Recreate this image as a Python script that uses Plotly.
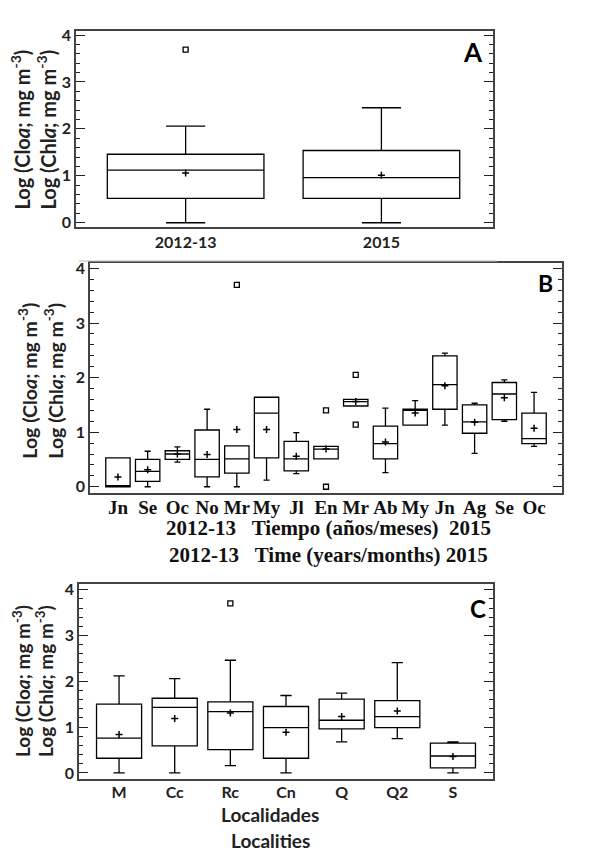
import plotly.graph_objects as go

# Panel A: by period
periods = ['2012-13', '2015']
a_q1 = [0.52, 0.52]
a_median = [1.12, 0.96]
a_q3 = [1.46, 1.54]
a_low = [0.0, 0.0]
a_up = [2.06, 2.45]
a_mean = [1.06, 1.01]
a_out_idx = [0]
a_out_val = [3.69]

# Panel B: by month
months = ['Jn', 'Se', 'Oc', 'No', 'Mr', 'My', 'Jl',
          'En', 'Mr', 'Ab', 'My', 'Jn', 'Ag', 'Se', 'Oc']
b_q1 = [0.0, 0.10, 0.50, 0.18, 0.25, 0.53, 0.29, 0.51, 1.48, 0.51, 1.13, 1.42, 0.98, 1.23, 0.79]
b_median = [0.0, 0.28, 0.60, 0.50, 0.51, 1.35, 0.51, 0.69, 1.56, 0.79, 1.40, 1.87, 1.19, 1.70, 0.88]
b_q3 = [0.53, 0.50, 0.66, 1.04, 0.75, 1.64, 0.83, 0.74, 1.60, 1.11, 1.42, 2.40, 1.50, 1.91, 1.35]
b_low = [0.0, 0.0, 0.45, 0.0, 0.0, 0.12, 0.24, 0.51, 1.48, 0.26, 1.13, 1.13, 0.61, 1.20, 0.74]
b_up = [0.53, 0.65, 0.73, 1.42, 0.75, 1.64, 0.99, 0.74, 1.60, 1.44, 1.58, 2.45, 1.53, 1.96, 1.73]
b_mean = [0.18, 0.31, 0.60, 0.59, 1.05, 1.05, 0.56, 0.69, 1.56, 0.82, 1.35, 1.85, 1.18, 1.63, 1.07]
b_out_idx = [4, 7, 7, 8, 8]
b_out_val = [3.70, 1.40, 0.0, 2.05, 1.14]

# Panel C: by locality
places = ['M', 'Cc', 'Rc', 'Cn', 'Q', 'Q2', 'S']
c_q1 = [0.32, 0.59, 0.51, 0.32, 0.96, 0.99, 0.11]
c_median = [0.76, 1.43, 1.34, 0.99, 1.15, 1.23, 0.37]
c_q3 = [1.50, 1.63, 1.55, 1.45, 1.61, 1.58, 0.65]
c_low = [0.0, 0.0, 0.16, 0.0, 0.68, 0.75, 0.0]
c_up = [2.12, 2.06, 2.46, 1.69, 1.74, 2.41, 0.68]
c_mean = [0.84, 1.19, 1.31, 0.89, 1.23, 1.35, 0.36]
c_out_idx = [2]
c_out_val = [3.70]

# the page body has an 8px margin, so the figure is drawn 8px in from the corner
OFF = 8
W, H = 592 - OFF, 857 - OFF
SANS = 'Lato, Open Sans, sans-serif'
SERIF = 'Liberation Serif, Times New Roman, serif'


def px_x(p):
    return (p - OFF) / W


def px_y(p):
    return 1 - (p - OFF) / H


fig = go.Figure()


def add_panel(n, q1, med, q3, low, up, mean, out_idx, out_val, bw):
    pos = list(range(len(q1)))
    xa = 'x' if n == 1 else 'x%d' % n
    ya = 'y' if n == 1 else 'y%d' % n
    fig.add_trace(go.Box(x=pos, q1=q1, median=med, q3=q3,
                         lowerfence=low, upperfence=up,
                         width=bw, whiskerwidth=0.25, boxpoints=False,
                         line=dict(color='black', width=1.3),
                         fillcolor='rgba(0,0,0,0)',
                         xaxis=xa, yaxis=ya, showlegend=False))
    fig.add_trace(go.Scatter(x=pos, y=mean, mode='markers',
                             marker=dict(symbol='cross-thin', size=5,
                                         line=dict(color='black', width=1.5)),
                             xaxis=xa, yaxis=ya, showlegend=False))
    fig.add_trace(go.Scatter(x=out_idx, y=out_val, mode='markers',
                             marker=dict(symbol='square-open', size=5, color='black',
                                         line=dict(color='black', width=1.3)),
                             xaxis=xa, yaxis=ya, showlegend=False))


add_panel(1, a_q1, a_median, a_q3, a_low, a_up, a_mean, a_out_idx, a_out_val, 0.8)
add_panel(2, b_q1, b_median, b_q3, b_low, b_up, b_mean, b_out_idx, b_out_val, 0.82)
add_panel(3, c_q1, c_median, c_q3, c_low, c_up, c_mean, c_out_idx, c_out_val, 0.81)


def yaxis(dom, rng, anchor):
    return dict(domain=dom, range=rng, tickvals=[0, 1, 2, 3, 4], anchor=anchor,
                ticks='inside', ticklen=9, tickwidth=1.3, tickcolor='#222',
                minor=dict(dtick=0.2, ticks='inside', ticklen=4, tickcolor='#222', tickwidth=1),
                mirror='ticks', showline=True, linecolor='#444', linewidth=1.6,
                showgrid=False, zeroline=False,
                tickfont=dict(family=SANS, size=16, color='#222', weight='bold'))


def xaxis(dom, rng, labels, font, anchor, standoff=0):
    return dict(domain=dom, range=rng, tickvals=list(range(len(labels))), ticktext=labels,
                ticks='', showline=True, mirror=True, linecolor='#444', linewidth=1.6,
                showgrid=False, zeroline=False, anchor=anchor, tickfont=font,
                tickangle=0, ticklabelstandoff=standoff)


fig.update_layout(
    width=W, height=H, margin=dict(l=0, r=0, t=0, b=0),
    paper_bgcolor='white', plot_bgcolor='white',
    xaxis=xaxis([px_x(76), px_x(493)], [-0.56, 1.57], periods,
                dict(family=SANS, size=16, color='#222', weight='bold'), 'y'),
    yaxis=yaxis([px_y(224), px_y(25)], [-0.1, 4.09], 'x'),
    xaxis2=xaxis([px_x(90), px_x(562)], [-0.94, 14.94], months,
                 dict(family=SERIF, size=19, color='#111', weight='bold'), 'y2', -4),
    yaxis2=yaxis([px_y(493), px_y(260)], [-0.12, 4.1], 'x2'),
    xaxis3=xaxis([px_x(79), px_x(493)], [-0.72, 6.72], places,
                 dict(family=SANS, size=16, color='#222', weight='bold'), 'y3', -2),
    yaxis3=yaxis([px_y(782), px_y(585)], [-0.13, 4.12], 'x3'),
)

ytitle1 = 'Log (Clo<i>a</i>; mg m<sup>-3</sup>)'
ytitle2 = 'Log (Chl<i>a</i>; mg m<sup>-3</sup>)'
ann = []
for (x1, x2, yc, size) in [(20, 46, 125, 20), (28, 54, 379, 19.5), (21, 44, 683, 19)]:
    for xc, txt in [(x1, ytitle1), (x2, ytitle2)]:
        ann.append(dict(x=px_x(xc), y=px_y(yc), xref='paper', yref='paper', text=txt,
                        textangle=-90, showarrow=False, xanchor='center', yanchor='middle',
                        font=dict(family=SANS, size=size, color='#222', weight='bold')))

for (xc, yc, txt, size) in [(473, 46, 'A', 26), (545, 280, 'B', 23), (478, 610, 'C', 24)]:
    ann.append(dict(x=px_x(xc), y=px_y(yc), xref='paper', yref='paper', text=txt,
                    showarrow=False, xanchor='center', yanchor='middle',
                    font=dict(family=SANS, size=size, color='black', weight='bold')))

nb = '\u00a0'
for (yc, txt) in [(528, '2012-13' + nb * 3 + 'Tiempo (años/meses)' + nb * 2 + '2015'),
                  (555, '2012-13' + nb * 3 + 'Time (years/months)' + nb + '2015')]:
    ann.append(dict(x=px_x(328), y=px_y(yc), xref='paper', yref='paper', text=txt,
                    showarrow=False, xanchor='center', yanchor='middle',
                    font=dict(family=SERIF, size=21, color='#111', weight='bold')))

for (yc, txt) in [(818, 'Localidades'), (844, 'Localities')]:
    ann.append(dict(x=px_x(270), y=px_y(yc), xref='paper', yref='paper', text=txt,
                    showarrow=False, xanchor='center', yanchor='middle',
                    font=dict(family=SANS, size=19, color='#222', weight='bold')))

fig.update_layout(annotations=ann)

# faint separator line below panel A
fig.add_shape(type='line', xref='paper', yref='paper',
              x0=px_x(79), x1=px_x(497), y0=px_y(258), y1=px_y(258),
              line=dict(color='#bbbbbb', width=1))

fig.write_html('out.html')
